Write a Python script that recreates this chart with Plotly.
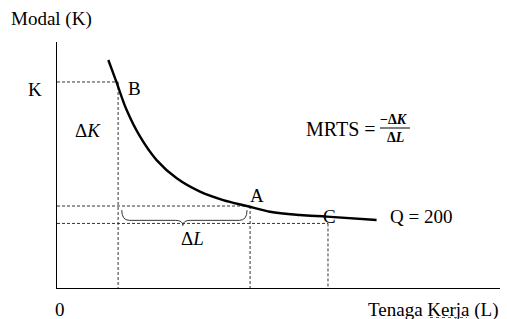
import plotly.graph_objects as go

# ---- data (economic units: L = labour, K = capital) ----
curve_L = [1.68, 1.95, 2.28, 2.72, 3.26, 3.92, 4.68, 5.44, 6.21, 6.97, 7.95, 8.83, 10.46]
curve_K = [11.12, 10.03, 8.68, 7.38, 6.24, 5.35, 4.70, 4.29, 4.00, 3.72, 3.56, 3.48, 3.32]
point_names = ["B", "A", "C"]
point_L = [2.00, 6.32, 8.87]
point_K = [10.05, 4.00, 3.15]
isoquant_label = "Q = 200"

W, H = 507, 319
ML, MR, MT, MB = 57, 7, 42, 31
XR, YR = 14.5, 12.0
FONT = "Liberation Serif, Times New Roman, serif"


def pp(px, py):
    """pixel -> paper coords"""
    return (px - ML) / (W - ML - MR), (H - MB - py) / (H - MT - MB)


fig = go.Figure()

dash_style = dict(color="#333333", width=1, dash="3px,2px")
for name, L, K in zip(point_names, point_L, point_K):
    fig.add_trace(go.Scatter(x=[0, L], y=[K, K], mode="lines", line=dash_style,
                             hoverinfo="skip", showlegend=False))
    fig.add_trace(go.Scatter(x=[L, L], y=[K, 0], mode="lines", line=dash_style,
                             hoverinfo="skip", showlegend=False))

fig.add_trace(go.Scatter(x=curve_L, y=curve_K, mode="lines",
                         line=dict(color="black", width=2.4, shape="spline", smoothing=1.0),
                         hoverinfo="skip", showlegend=False))

# curly brace (Delta L) between B and A
L1, L2 = point_L[0] + 0.12, point_L[1] - 0.1
Lc = (L1 + L2) / 2 - 0.05
kt, km, kb = 3.80, 3.30, 3.05
d = 0.25
brace = (f"M {L1},{kt} Q {L1},{km} {L1 + d},{km} L {Lc - d},{km} "
         f"Q {Lc},{km} {Lc},{kb} Q {Lc},{km} {Lc + d},{km} "
         f"L {L2 - d},{km} Q {L2},{km} {L2},{kt}")
fig.add_shape(type="path", path=brace, xref="x", yref="y",
              line=dict(color="#333", width=1))

annots = []


def txt(s, px, py, size=19, xanchor="center"):
    x, y = pp(px, py)
    annots.append(dict(text=s, x=x, y=y, xref="paper", yref="paper", showarrow=False,
                       xanchor=xanchor, yanchor="middle",
                       font=dict(family=FONT, size=size, color="black")))


txt("Modal (K)", 9, 19, xanchor="left")
txt("K", 35, 89)
txt("B", 134, 88)
txt("A", 257, 195)
txt("C", 329, 216)
txt(isoquant_label, 388, 216, xanchor="left")
txt("Δ<i>K</i>", 88, 130)
txt("Δ<i>L</i>", 192, 238)
txt("0", 60, 309)
txt("Tenaga Kerja (L)", 501, 310, xanchor="right")
txt("MRTS =", 304, 129, size=20, xanchor="left")
txt("<b>−Δ<i>K</i></b>", 394, 120, size=14)
txt("<b>Δ<i>L</i></b>", 395, 137, size=14)

x0, y0 = pp(380, 128)
x1, _ = pp(410, 128)
fig.add_shape(type="line", xref="paper", yref="paper", x0=x0, x1=x1, y0=y0, y1=y0,
              line=dict(color="black", width=1))
# spell-check squiggle under "Kerja"
sx0, sy = pp(430, 317.5)
sx1, _ = pp(467, 317.5)
fig.add_shape(type="line", xref="paper", yref="paper", x0=sx0, x1=sx1, y0=sy, y1=sy,
              line=dict(color="#d23", width=1, dash="dot"))

fig.update_layout(
    width=W, height=H, margin=dict(l=ML, r=MR, t=MT, b=MB),
    paper_bgcolor="white", plot_bgcolor="white",
    annotations=annots,
    xaxis=dict(range=[0, XR], showline=True, linecolor="black", linewidth=1.3,
               showgrid=False, zeroline=False, showticklabels=False, ticks=""),
    yaxis=dict(range=[0, YR], showline=True, linecolor="black", linewidth=1.3,
               showgrid=False, zeroline=False, showticklabels=False, ticks=""),
)

fig.write_html("out.html", config={"displayModeBar": False},
               post_script="document.body.style.margin='0';document.body.style.overflow='hidden';")
